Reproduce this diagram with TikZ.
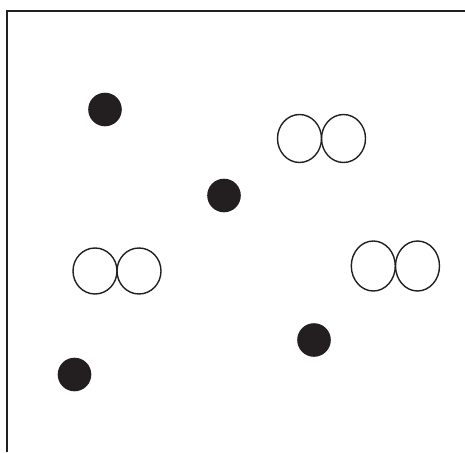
\documentclass[tikz,border=0pt]{standalone}
\usepackage{xcolor}
\usepackage{tikz}
\definecolor{ink}{HTML}{231F20}

\begin{document}
\begin{tikzpicture}[x=1pt,y=-1pt]
      \useasboundingbox (0,0) rectangle (465,452);
      % frame
      \draw[ink, line width=2pt] (7,452) -- (7,11) -- (465,11);
      % solid dots
      \fill[ink] (105,109.5) circle (16.8);
      \fill[ink] (224,195.5) circle (16.8);
      \fill[ink] (314,340) circle (16.8);
      \fill[ink] (74.5,374.5) circle (16.8);
      % open pairs
      \draw[ink, line width=1.4pt] (299.5,138.5) ellipse (22 and 24);
      \draw[ink, line width=1.4pt] (343.5,138.5) ellipse (22 and 24);
      \draw[ink, line width=1.4pt] (95,271) ellipse (22 and 23);
      \draw[ink, line width=1.4pt] (139,271) ellipse (22 and 23);
      \draw[ink, line width=1.4pt] (373.3,266) ellipse (22 and 25);
      \draw[ink, line width=1.4pt] (417.5,266) ellipse (22 and 25);
    \end{tikzpicture}
\end{document}
